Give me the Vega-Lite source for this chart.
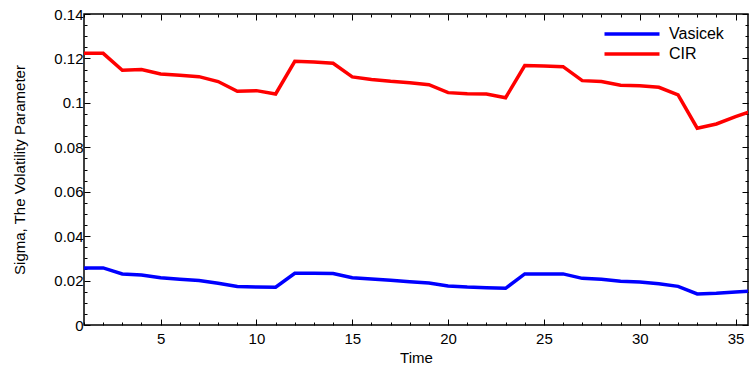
{
  "$schema": "https://vega.github.io/schema/vega-lite/v6.json",
  "width": 664,
  "height": 311,
  "autosize": {"type": "none"},
  "padding": {"left": 84, "top": 14, "right": 1, "bottom": 47},
  "background": "white",
  "config": {
    "view": {"stroke": "black", "strokeWidth": 1.5},
    "font": "Liberation Sans",
    "axis": {"grid": false, "domain": false, "tickColor": "black", "tickWidth": 1, "labelColor": "black", "titleColor": "black", "labelFont": "Liberation Sans", "titleFont": "Liberation Sans", "labelFontSize": 15, "titleFontSize": 15, "titleFontWeight": "normal"}
  },
  "data": {"values": [
    {"Time": 1, "Model": "Vasicek", "Sigma": 0.0257},
    {"Time": 2, "Model": "Vasicek", "Sigma": 0.0257},
    {"Time": 3, "Model": "Vasicek", "Sigma": 0.0230},
    {"Time": 4, "Model": "Vasicek", "Sigma": 0.0225},
    {"Time": 5, "Model": "Vasicek", "Sigma": 0.0213},
    {"Time": 6, "Model": "Vasicek", "Sigma": 0.0206},
    {"Time": 7, "Model": "Vasicek", "Sigma": 0.0200},
    {"Time": 8, "Model": "Vasicek", "Sigma": 0.0188},
    {"Time": 9, "Model": "Vasicek", "Sigma": 0.0173},
    {"Time": 10, "Model": "Vasicek", "Sigma": 0.0171},
    {"Time": 11, "Model": "Vasicek", "Sigma": 0.0170},
    {"Time": 12, "Model": "Vasicek", "Sigma": 0.0233},
    {"Time": 13, "Model": "Vasicek", "Sigma": 0.0233},
    {"Time": 14, "Model": "Vasicek", "Sigma": 0.0232},
    {"Time": 15, "Model": "Vasicek", "Sigma": 0.0213},
    {"Time": 16, "Model": "Vasicek", "Sigma": 0.0207},
    {"Time": 17, "Model": "Vasicek", "Sigma": 0.0201},
    {"Time": 18, "Model": "Vasicek", "Sigma": 0.0195},
    {"Time": 19, "Model": "Vasicek", "Sigma": 0.0189},
    {"Time": 20, "Model": "Vasicek", "Sigma": 0.0176},
    {"Time": 21, "Model": "Vasicek", "Sigma": 0.0171},
    {"Time": 22, "Model": "Vasicek", "Sigma": 0.0168},
    {"Time": 23, "Model": "Vasicek", "Sigma": 0.0165},
    {"Time": 24, "Model": "Vasicek", "Sigma": 0.0230},
    {"Time": 25, "Model": "Vasicek", "Sigma": 0.0230},
    {"Time": 26, "Model": "Vasicek", "Sigma": 0.0230},
    {"Time": 27, "Model": "Vasicek", "Sigma": 0.0210},
    {"Time": 28, "Model": "Vasicek", "Sigma": 0.0206},
    {"Time": 29, "Model": "Vasicek", "Sigma": 0.0197},
    {"Time": 30, "Model": "Vasicek", "Sigma": 0.0194},
    {"Time": 31, "Model": "Vasicek", "Sigma": 0.0186},
    {"Time": 32, "Model": "Vasicek", "Sigma": 0.0174},
    {"Time": 33, "Model": "Vasicek", "Sigma": 0.0140},
    {"Time": 34, "Model": "Vasicek", "Sigma": 0.0143},
    {"Time": 35, "Model": "Vasicek", "Sigma": 0.0149},
    {"Time": 36, "Model": "Vasicek", "Sigma": 0.0153},
    {"Time": 1, "Model": "CIR", "Sigma": 0.1223},
    {"Time": 2, "Model": "CIR", "Sigma": 0.1223},
    {"Time": 3, "Model": "CIR", "Sigma": 0.1147},
    {"Time": 4, "Model": "CIR", "Sigma": 0.1150},
    {"Time": 5, "Model": "CIR", "Sigma": 0.1130},
    {"Time": 6, "Model": "CIR", "Sigma": 0.1124},
    {"Time": 7, "Model": "CIR", "Sigma": 0.1118},
    {"Time": 8, "Model": "CIR", "Sigma": 0.1096},
    {"Time": 9, "Model": "CIR", "Sigma": 0.1052},
    {"Time": 10, "Model": "CIR", "Sigma": 0.1055},
    {"Time": 11, "Model": "CIR", "Sigma": 0.1040},
    {"Time": 12, "Model": "CIR", "Sigma": 0.1187},
    {"Time": 13, "Model": "CIR", "Sigma": 0.1184},
    {"Time": 14, "Model": "CIR", "Sigma": 0.1178},
    {"Time": 15, "Model": "CIR", "Sigma": 0.1117},
    {"Time": 16, "Model": "CIR", "Sigma": 0.1105},
    {"Time": 17, "Model": "CIR", "Sigma": 0.1097},
    {"Time": 18, "Model": "CIR", "Sigma": 0.1091},
    {"Time": 19, "Model": "CIR", "Sigma": 0.1082},
    {"Time": 20, "Model": "CIR", "Sigma": 0.1046},
    {"Time": 21, "Model": "CIR", "Sigma": 0.1041},
    {"Time": 22, "Model": "CIR", "Sigma": 0.1040},
    {"Time": 23, "Model": "CIR", "Sigma": 0.1023},
    {"Time": 24, "Model": "CIR", "Sigma": 0.1168},
    {"Time": 25, "Model": "CIR", "Sigma": 0.1166},
    {"Time": 26, "Model": "CIR", "Sigma": 0.1163},
    {"Time": 27, "Model": "CIR", "Sigma": 0.1100},
    {"Time": 28, "Model": "CIR", "Sigma": 0.1096},
    {"Time": 29, "Model": "CIR", "Sigma": 0.1079},
    {"Time": 30, "Model": "CIR", "Sigma": 0.1077},
    {"Time": 31, "Model": "CIR", "Sigma": 0.1070},
    {"Time": 32, "Model": "CIR", "Sigma": 0.1036},
    {"Time": 33, "Model": "CIR", "Sigma": 0.0886},
    {"Time": 34, "Model": "CIR", "Sigma": 0.0905},
    {"Time": 35, "Model": "CIR", "Sigma": 0.0938},
    {"Time": 36, "Model": "CIR", "Sigma": 0.0968}
  ]},
  "resolve": {"axis": {"x": "independent", "y": "independent"}},
  "layer": [
    {
      "mark": {"type": "line", "strokeWidth": 3.5, "clip": true},
      "encoding": {
        "x": {"field": "Time", "type": "quantitative", "scale": {"domain": [1, 35.65], "nice": false, "zero": false},
              "axis": {"orient": "bottom", "values": [5, 10, 15, 20, 25, 30, 35], "tickSize": -6, "labelPadding": 12, "title": "Time", "titlePadding": 4}},
        "y": {"field": "Sigma", "type": "quantitative", "scale": {"domain": [0, 0.14], "nice": false},
              "axis": {"orient": "left", "values": [0, 0.02, 0.04, 0.06, 0.08, 0.1, 0.12, 0.14], "format": "~g", "tickSize": -6, "labelPadding": 7, "title": "Sigma, The Volatility Parameter", "titlePadding": 26}},
        "color": {"field": "Model", "type": "nominal",
                  "scale": {"domain": ["Vasicek", "CIR"], "range": ["#0000ff", "#ff0000"]},
                  "legend": {"orient": "none", "legendX": 518, "legendY": 12, "title": null, "symbolType": "M-1,0H9", "symbolSize": 121, "symbolStrokeWidth": 3.5, "symbolFillColor": "transparent", "labelFontSize": 16, "labelFont": "Liberation Sans", "labelColor": "black", "rowPadding": 4, "labelOffset": 51}}
      }
    },
    {
      "mark": {"type": "line", "strokeOpacity": 0},
      "encoding": {
        "x": {"field": "Time", "type": "quantitative", "axis": {"orient": "top", "values": [5, 10, 15, 20, 25, 30, 35], "tickSize": -6, "labels": false, "title": null}},
        "y": {"field": "Sigma", "type": "quantitative", "axis": {"orient": "right", "values": [0, 0.02, 0.04, 0.06, 0.08, 0.1, 0.12, 0.14], "tickSize": -6, "labels": false, "title": null}},
        "detail": {"field": "Model"}
      }
    },
    {
      "mark": {"type": "line", "strokeOpacity": 0},
      "encoding": {
        "x": {"field": "Time", "type": "quantitative", "axis": {"orient": "bottom", "values": [1,2,3,4,6,7,8,9,11,12,13,14,16,17,18,19,21,22,23,24,26,27,28,29,31,32,33,34], "tickSize": -3, "labels": false, "title": null}},
        "y": {"field": "Sigma", "type": "quantitative", "axis": {"orient": "left", "values": [0.005,0.01,0.015,0.025,0.03,0.035,0.045,0.05,0.055,0.065,0.07,0.075,0.085,0.09,0.095,0.105,0.11,0.115,0.125,0.13,0.135], "tickSize": -3, "labels": false, "title": null}},
        "detail": {"field": "Model"}
      }
    },
    {
      "mark": {"type": "line", "strokeOpacity": 0},
      "encoding": {
        "x": {"field": "Time", "type": "quantitative", "axis": {"orient": "top", "values": [1,2,3,4,6,7,8,9,11,12,13,14,16,17,18,19,21,22,23,24,26,27,28,29,31,32,33,34], "tickSize": -3, "labels": false, "title": null}},
        "y": {"field": "Sigma", "type": "quantitative", "axis": {"orient": "right", "values": [0.005,0.01,0.015,0.025,0.03,0.035,0.045,0.05,0.055,0.065,0.07,0.075,0.085,0.09,0.095,0.105,0.11,0.115,0.125,0.13,0.135], "tickSize": -3, "labels": false, "title": null}},
        "detail": {"field": "Model"}
      }
    }
  ]
}
